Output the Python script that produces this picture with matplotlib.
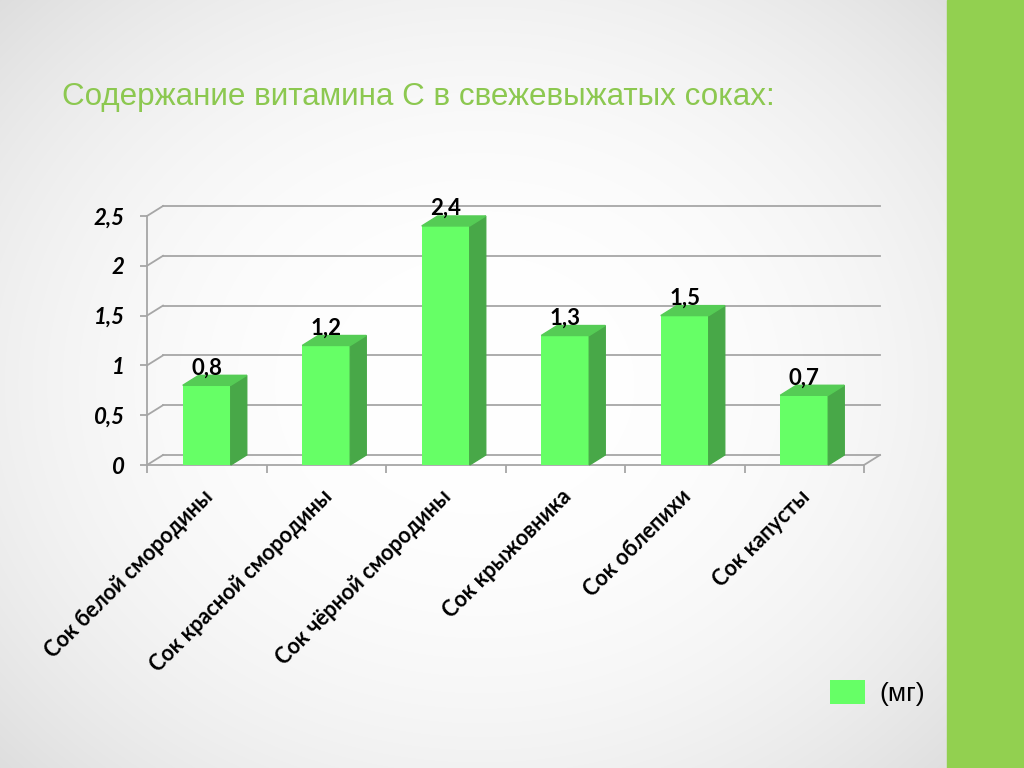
import numpy as np
import matplotlib
matplotlib.use('Agg')
import matplotlib.pyplot as plt
from matplotlib.patches import Polygon, Rectangle
from matplotlib.transforms import ScaledTranslation

# data
categories = ['Сок белой смородины', 'Сок красной смородины', 'Сок чёрной смородины',
              'Сок крыжовника', 'Сок облепихи', 'Сок капусты']
values = [0.8, 1.2, 2.4, 1.3, 1.5, 0.7]
y_ticks = [0, 0.5, 1, 1.5, 2, 2.5]
title = 'Содержание витамина С в свежевыжатых соках:'
unit = '(мг)'

W, H = 1024, 768
fig = plt.figure(figsize=(W / 100, H / 100), dpi=100)

# background: soft gray vignette + green strip on the right
bg = fig.add_axes([0, 0, 1, 1], zorder=-10)
yy, xx = np.mgrid[0:H, 0:W]
r = np.sqrt(((xx - 480) / 640.0) ** 2 + ((yy - 384) / 540.0) ** 2)
shade = 1.0 - 0.12 * np.clip(r, 0, 1.3) ** 2.4
bg.imshow(np.dstack([shade] * 3), extent=[0, W, H, 0], aspect='auto')
bg.add_patch(Rectangle((947, 0), W - 947, H, color='#92D050'))
bg.set_xlim(0, W)
bg.set_ylim(H, 0)
bg.axis('off')

fig.text(62 / W, 1 - 97 / H, title, fontsize=22.6, color='#8CC850',
         family='Liberation Sans', va='center', ha='left')

# pseudo-3d depth in data units
dx = 16 / 119.5
dy = 10 / 99.6
n = len(categories)

ax = fig.add_axes([147 / W, 1 - 465 / H, (880 - 147) / W, (465 - 206) / H])
ax.set_xlim(0, n + dx)
ax.set_ylim(0, 2.5 + dy)
ax.patch.set_visible(False)

grid_c = '#A6A6A6'
for v in y_ticks:
    ax.plot([0, dx], [v, v + dy], color=grid_c, lw=1.3, zorder=1, clip_on=False)
    ax.plot([dx, n + dx], [v + dy, v + dy], color=grid_c, lw=1.3, zorder=1, clip_on=False)
ax.plot([n, n + dx], [0, dy], color=grid_c, lw=1.3, zorder=1, clip_on=False)

for s in ['top', 'right']:
    ax.spines[s].set_visible(False)
ax.spines['left'].set_bounds(0, 2.5)
ax.spines['bottom'].set_bounds(0, n)
ax.spines['left'].set_color(grid_c)
ax.spines['bottom'].set_color(grid_c)
ax.spines['left'].set_linewidth(1.3)
ax.spines['bottom'].set_linewidth(1.3)

ax.set_yticks(y_ticks)
ax.set_yticklabels([('%g' % v).replace('.', ',') for v in y_ticks],
                   fontfamily='Lato', fontweight='bold', fontstyle='italic', fontsize=16)
ax.tick_params(axis='y', length=5, width=1.3, color=grid_c, pad=11)

centers = np.arange(n) + 0.5
ax.set_xticks(np.arange(n + 1))
ax.set_xticklabels([])
ax.tick_params(axis='x', which='major', length=6, width=1.3, color=grid_c)
ax.set_xticks(centers, minor=True)
ax.set_xticklabels(categories, minor=True, rotation=45, ha='right',
                   rotation_mode='anchor', fontfamily='Lato', fontweight='bold', fontsize=15.5)
ax.tick_params(axis='x', which='minor', length=0, pad=15)
shift = ScaledTranslation(-5 / 100, 0, fig.dpi_scale_trans)
for lab in ax.get_xticklabels(minor=True):
    lab.set_transform(lab.get_transform() + shift)

front_c = '#66FF66'
top_c = '#55CC55'
side_c = '#48A848'
bw = 48 / 119.5
bars = ax.bar(centers, values, width=bw, color=front_c, zorder=3, label=unit)
for b, v in zip(bars, values):
    x0 = b.get_x()
    x1 = x0 + b.get_width()
    h = b.get_height()
    ax.add_patch(Polygon([(x1, 0), (x1 + dx, dy), (x1 + dx, h + dy), (x1, h)],
                         closed=True, color=side_c, zorder=3, clip_on=False))
    ax.add_patch(Polygon([(x0, h), (x0 + dx, h + dy), (x1 + dx, h + dy), (x1, h)],
                         closed=True, color=top_c, zorder=3, clip_on=False))
    ax.text(b.get_x() + b.get_width() / 2, h + dy + 0.01, ('%g' % v).replace('.', ','),
            ha='center', va='baseline', fontfamily='Lato', fontweight='bold',
            fontsize=16, zorder=4)

fig.legend(handles=[bars], labels=[unit], loc='center left',
           bbox_to_anchor=(806 / W, 1 - 693 / H), frameon=False,
           prop={'family': 'Liberation Sans', 'size': 19},
           handlelength=1.33, handleheight=1.0, handletextpad=0.55)

fig.savefig('out.png', dpi=100)
